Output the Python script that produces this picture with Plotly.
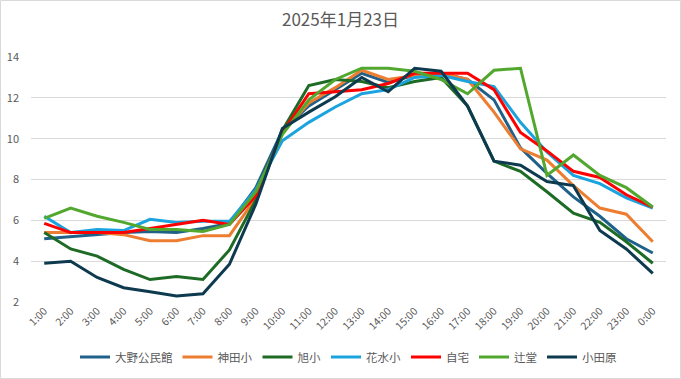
import plotly.graph_objects as go

hours = ["1:00", "2:00", "3:00", "4:00", "5:00", "6:00", "7:00", "8:00", "9:00", "10:00",
         "11:00", "12:00", "13:00", "14:00", "15:00", "16:00", "17:00", "18:00", "19:00",
         "20:00", "21:00", "22:00", "23:00", "0:00"]

oono = [5.1, 5.2, 5.3, 5.4, 5.45, 5.4, 5.6, 5.85, 7.6, 10.4, 11.6, 12.4, 13.2, 12.75,
        13.1, 13.2, 12.9, 11.9, 9.55, 8.3, 7.15, 6.2, 5.1, 4.4]
kanda = [5.4, 5.4, 5.4, 5.3, 5.0, 5.0, 5.25, 5.25, 7.1, 10.3, 11.75, 12.5, 13.35, 12.9,
         13.1, 13.2, 12.9, 11.3, 9.5, 8.95, 7.7, 6.6, 6.3, 4.95]
asahi = [5.4, 4.6, 4.25, 3.6, 3.1, 3.25, 3.1, 4.55, 7.0, 10.4, 12.6, 12.9, 12.8, 12.5,
         12.8, 13.0, 11.6, 8.9, 8.4, 7.4, 6.35, 5.9, 4.95, 3.9]
hanamizu = [6.2, 5.4, 5.55, 5.5, 6.05, 5.9, 5.95, 5.95, 7.5, 9.9, 10.8, 11.55, 12.2, 12.4,
            13.0, 13.1, 12.8, 12.55, 10.8, 9.35, 8.2, 7.8, 7.1, 6.6]
jitaku = [5.85, 5.4, 5.4, 5.4, 5.6, 5.8, 6.0, 5.8, 7.2, 10.3, 12.2, 12.3, 12.4, 12.7,
          13.2, 13.2, 13.2, 12.4, 10.3, 9.4, 8.4, 8.1, 7.25, 6.65]
tsujido = [6.1, 6.6, 6.2, 5.9, 5.55, 5.55, 5.45, 5.8, 7.4, 10.2, 11.9, 12.9, 13.45, 13.45,
           13.3, 12.9, 12.2, 13.35, 13.45, 8.2, 9.2, 8.2, 7.6, 6.65]
odawara = [3.9, 4.0, 3.2, 2.7, 2.5, 2.3, 2.4, 3.85, 6.8, 10.5, 11.3, 12.05, 13.0, 12.3,
           13.45, 13.3, 11.6, 8.9, 8.7, 7.9, 7.7, 5.5, 4.6, 3.4]

series_names = ["大野公民館", "神田小", "旭小", "花水小", "自宅", "辻堂", "小田原"]
series_values = [oono, kanda, asahi, hanamizu, jitaku, tsujido, odawara]
colors = ["#1F6189", "#ED7D31", "#1E6B26", "#1AA3DE", "#FF0000", "#52A82E", "#0E3A50"]

fig = go.Figure()
for name, vals, col in zip(series_names, series_values, colors):
    fig.add_trace(go.Scatter(x=hours, y=vals, name=name, mode="lines",
                             line=dict(color=col, width=3)))

W, H = 681, 379
ml, mr, mt, mb = 31, 15, 57, 77
pw, ph = W - ml - mr, H - mt - mb

font_family = "Noto Sans CJK JP, Noto Sans, sans-serif"
fig.update_layout(
    width=W, height=H,
    margin=dict(l=ml, r=mr, t=mt, b=mb, autoexpand=False),
    paper_bgcolor="white", plot_bgcolor="white",
    font=dict(family=font_family, color="#595959", size=11),
    title=dict(text="2025年1月23日", x=0.5, xanchor="center", y=1 - 20 / H, yanchor="middle",
               font=dict(size=17, color="#595959", family=font_family)),
    xaxis=dict(type="category", range=[-0.5, 23.5], tickangle=-45, showgrid=False,
               showline=False, ticks="", tickfont=dict(size=10.5, color="#595959"),
               automargin=False, fixedrange=True),
    yaxis=dict(range=[2, 14], dtick=2, showgrid=True, gridcolor="#D9D9D9", gridwidth=1,
               zeroline=False, showline=False, ticks="", tickfont=dict(size=11, color="#595959"),
               ticklabelstandoff=11, automargin=False, fixedrange=True),
    legend=dict(orientation="h", x=0.5, xanchor="center", y=-55 / ph, yanchor="middle",
                font=dict(size=11.5, color="#595959"), itemwidth=30,
                bgcolor="rgba(0,0,0,0)"),
    showlegend=True,
    shapes=[dict(type="rect", xref="paper", yref="paper",
                 x0=-(ml - 0.5) / pw, x1=1 + (mr - 0.5) / pw,
                 y0=-(mb - 0.5) / ph, y1=1 + (mt - 0.5) / ph,
                 line=dict(color="#D9D9D9", width=1), layer="below")],
)

fig.write_html("out.html", config={"displayModeBar": False},
               post_script="document.body.style.margin='0';document.body.style.overflow='hidden';")
